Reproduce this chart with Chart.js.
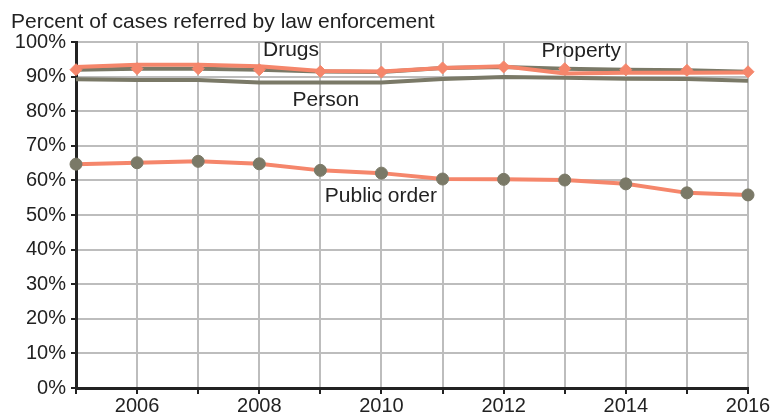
<!DOCTYPE html>
<html>
<head>
<meta charset="utf-8">
<script src="https://cdn.jsdelivr.net/npm/chart.js@4/dist/chart.umd.min.js"></script>
<style>
  html, body { margin: 0; padding: 0; background: #fff; }
  #wrap { width: 775px; height: 413px; position: relative; }
</style>
</head>
<body>
<div id="wrap"><canvas id="chart"></canvas></div>
<script>
/* ================= DATA ================= */
const years = ['2005', '2006', '2007', '2008', '2009', '2010', '2011', '2012', '2013', '2014', '2015', '2016'];
const drugs = [92.8, 93.4, 93.4, 93.0, 91.6, 91.5, 92.5, 93.0, 90.9, 91.1, 91.1, 91.2];
const property = [92.0, 92.3, 92.3, 92.0, 91.5, 91.3, 92.5, 92.8, 92.3, 92.0, 91.8, 91.4];
const person = [89.2, 89.0, 89.0, 88.3, 88.3, 88.3, 89.3, 89.9, 89.7, 89.4, 89.3, 88.8];
const publicOrder = [64.7, 65.1, 65.5, 64.8, 62.9, 62.1, 60.4, 60.3, 60.1, 59.0, 56.4, 55.8];
const yTicks = [0, 10, 20, 30, 40, 50, 60, 70, 80, 90, 100];

const ORANGE = '#f5866b';
const GRAY = '#7a7967';
const FONT = 'Liberation Sans, Arial, Helvetica, sans-serif';

/* ================= LABELS ================= */
// series names placed at (year index, value)
const seriesLabels = [
    { text: 'Drugs', x: 3.52, y: 97.6 },
    { text: 'Person', x: 4.09, y: 83.2 },
    { text: 'Property', x: 8.27, y: 97.3 },
    { text: 'Public order', x: 4.99, y: 55.5 }
];

const textPlugin = {
    id: 'textPlugin',
    afterDraw(chart) {
        const ctx = chart.ctx;
        const xs = chart.scales.x, ys = chart.scales.y;
        ctx.save();
        ctx.fillStyle = '#222';
        ctx.font = '21px ' + FONT;
        ctx.textAlign = 'left';
        ctx.textBaseline = 'alphabetic';
        ctx.fillText('Percent of cases referred by law enforcement', 11, 28);
        ctx.textAlign = 'center';
        ctx.textBaseline = 'middle';
        seriesLabels.forEach(l => {
            ctx.fillText(l.text, xs.getPixelForValue(l.x), ys.getPixelForValue(l.y));
        });
        ctx.restore();
    }
};

/* ================= CHART ================= */
// order: lower value is drawn on top
new Chart(document.getElementById('chart'), {
    type: 'line',
    data: {
        labels: years,
        datasets: [
            {
                label: 'Property markers',
                data: property,
                showLine: false,
                pointStyle: 'rectRot',
                pointRadius: 6,
                pointBorderWidth: 1,
                pointBackgroundColor: ORANGE,
                pointBorderColor: ORANGE,
                order: 0
            },
            {
                label: 'Drugs',
                data: drugs,
                borderColor: ORANGE,
                borderWidth: 4,
                pointRadius: 0,
                tension: 0,
                order: 1
            },
            {
                label: 'Property',
                data: property,
                borderColor: GRAY,
                borderWidth: 4,
                pointRadius: 0,
                tension: 0,
                order: 2
            },
            {
                label: 'Person',
                data: person,
                borderColor: GRAY,
                borderWidth: 4,
                pointRadius: 0,
                tension: 0,
                order: 3
            },
            {
                label: 'Public order',
                data: publicOrder,
                borderColor: ORANGE,
                borderWidth: 4,
                pointRadius: 6,
                pointBorderWidth: 1,
                pointBackgroundColor: GRAY,
                pointBorderColor: GRAY,
                tension: 0,
                order: 0
            }
        ]
    },
    options: {
        responsive: true,
        maintainAspectRatio: false,
        animation: false,
        layout: { padding: { top: 42, right: 27, left: 0, bottom: 0 } },
        plugins: {
            legend: { display: false },
            tooltip: { enabled: false }
        },
        scales: {
            x: {
                offset: false,
                grid: { color: '#bdbdbd', lineWidth: 2, tickColor: '#222', tickLength: 6 },
                border: { color: '#222', width: 3 },
                ticks: {
                    color: '#222',
                    font: { family: FONT, size: 20 },
                    padding: 0,
                    maxRotation: 0,
                    autoSkip: false,
                    callback: function (v, i) { return i % 2 === 1 ? years[i] : ''; }
                },
                afterFit(scale) { scale.height = 25; }
            },
            y: {
                min: 0,
                max: 100,
                afterBuildTicks(scale) { scale.ticks = yTicks.map(v => ({ value: v })); },
                grid: { color: '#bdbdbd', lineWidth: 2, tickColor: '#222', tickLength: 5 },
                border: { color: '#222', width: 3 },
                ticks: {
                    color: '#222',
                    font: { family: FONT, size: 20 },
                    padding: 5,
                    callback: v => v + '%'
                },
                afterFit(scale) { scale.width = 76; }
            }
        }
    },
    plugins: [textPlugin]
});
</script>
</body>
</html>
